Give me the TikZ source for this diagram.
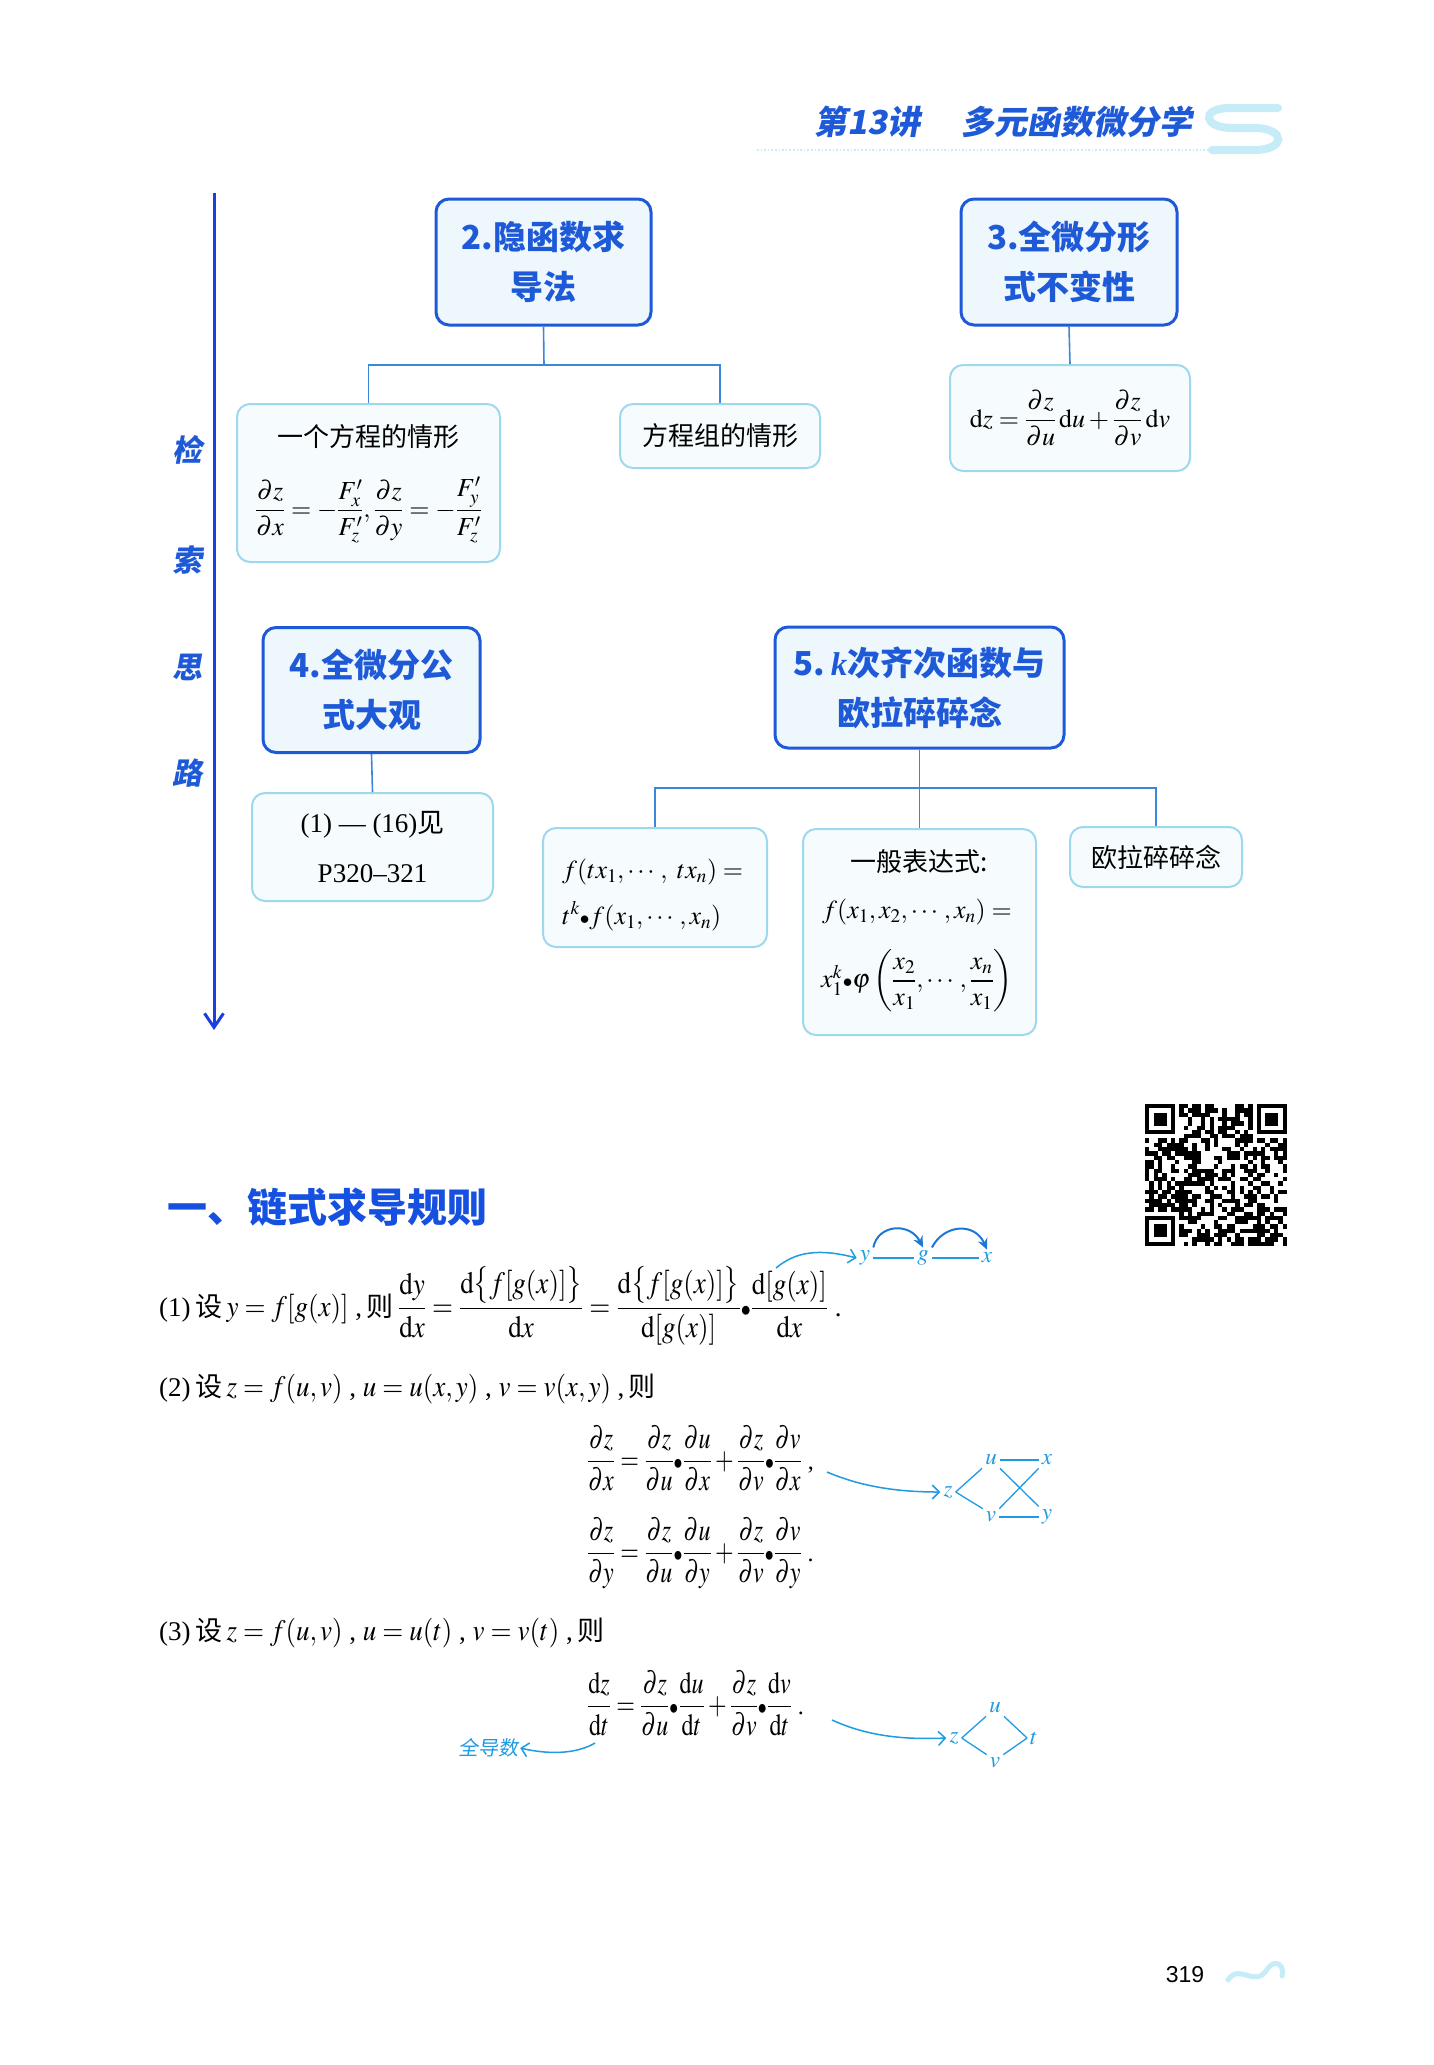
\documentclass[tikz,border=0pt]{standalone}
\usepackage{amsmath}
\usepackage{mathptmx}
\usepackage{graphicx}
\usepackage{fontspec}
\setmainfont{Liberation Serif}
\setsansfont{Liberation Sans}
\newfontfamily\cjk{Noto Sans CJK SC}
\newfontfamily\cjkslant{Noto Sans CJK SC}[FakeSlant=0.18]
\usetikzlibrary{arrows.meta}
\newcommand\stretchmath[2][1.2]{\scalebox{1}[#1]{$\displaystyle #2$}}
\definecolor{mainblue}{HTML}{1E5AD8}
\definecolor{boxfill}{HTML}{EEF7FC}
\definecolor{subline}{HTML}{9ED8EE}
\definecolor{subfill}{HTML}{F6FCFE}
\definecolor{connblue}{HTML}{3C86DC}
\definecolor{axisblue}{HTML}{1A3FE0}
\definecolor{noteblue}{HTML}{1E9BE2}
\definecolor{arcblue}{HTML}{1B78D8}
\definecolor{decocyan}{HTML}{C6ECF7}
\definecolor{titleblue}{HTML}{1650E0}
\tikzset{
  mainbox/.style={draw=mainblue, line width=3pt, rounded corners=13pt, fill=boxfill, inner sep=0pt, align=center, text=mainblue, font=\cjk\bfseries\fontsize{33}{50}\selectfont},
  subbox/.style={draw=subline, line width=2pt, rounded corners=13pt, fill=subfill, inner sep=0pt, align=center, font=\fontsize{26}{50}\selectfont},
  conn/.style={draw=connblue, line width=1.6pt},
  cjktxt/.style={inner sep=0pt, font=\cjk\fontsize{26}{30}\selectfont},
  mathtxt/.style={inner sep=0pt, font=\fontsize{26}{30}\selectfont},
  eqtxt/.style={inner sep=0pt, anchor=base west, font=\fontsize{26}{30}\selectfont},
  sidelabel/.style={inner sep=0pt, text=mainblue, font=\cjkslant\bfseries\fontsize{30}{30}\selectfont},
  treeletter/.style={inner sep=3pt, text=noteblue, font=\fontsize{23}{23}\selectfont},
  treeline/.style={draw=noteblue, line width=1.3pt},
  notearrow/.style={draw=noteblue, line width=1.5pt, -{Straight Barb[length=7pt,width=14pt]}},
  arcarrow/.style={draw=arcblue, line width=2pt, -{Stealth[length=11pt,width=10pt]}},
}
\begin{document}
\begin{tikzpicture}[x=1pt,y=-1pt]
\useasboundingbox[fill=white] (0,0) rectangle (1434,2065);

% ---------- header ----------
\node[inner sep=0pt, anchor=west, text=mainblue, font=\cjkslant\bfseries\fontsize{33}{33}\selectfont] (hd1) at (814,122) {第13讲};
\node[inner sep=0pt, anchor=west, text=mainblue, font=\cjkslant\bfseries\fontsize{33}{33}\selectfont] (hd2) at (961,122) {多元函数微分学};
\draw[decocyan, line width=1.6pt, dotted] (757,150) -- (1230,150);
\draw[decocyan, line width=8pt, line cap=round]
  (1278,108) -- (1228,108) .. controls (1200,109) and (1204,128) .. (1232,128)
  -- (1256,128) .. controls (1286,129) and (1286,150) .. (1254,150) -- (1212,150);

% ---------- vertical axis ----------
\coordinate (ax0) at (214,193);
\coordinate (ax1) at (214,1030);
\draw[axisblue, line width=3pt, -{Straight Barb[length=14pt,width=19pt,line width=3pt]}] (ax0) -- (ax1);
\node[sidelabel] (s1) at (187,450) {检};
\node[sidelabel] (s2) at (187,560) {索};
\node[sidelabel] (s3) at (187,667) {思};
\node[sidelabel] (s4) at (187,773) {路};

% ---------- upper boxes ----------
\node[mainbox, minimum width=215pt, minimum height=126pt] (b2) at (543.5,262) {2.隐函数求\\导法};
\node[mainbox, minimum width=216pt, minimum height=126pt] (b3) at (1069,262) {3.全微分形\\式不变性};

\node[subbox, minimum width=263pt, minimum height=158pt] (bA) at (368.5,483) {};
\node[cjktxt] (bAt) at (368.5,437) {一个方程的情形};
\node[mathtxt, font=\fontsize{26}{30}\selectfont] (bAf) at (368.5,510)
  {$\dfrac{\partial z}{\partial x}=-\dfrac{F'_x}{F'_z},\dfrac{\partial z}{\partial y}=-\dfrac{F'_y}{F'_z}$};

\node[subbox, minimum width=200pt, minimum height=64pt, font=\cjk\fontsize{26}{30}\selectfont] (bB) at (720,436) {方程组的情形};

\node[subbox, minimum width=240pt, minimum height=106pt, font=\fontsize{26}{30}\selectfont] (bC) at (1070,418)
  {$\mathrm{d}z=\dfrac{\partial z}{\partial u}\,\mathrm{d}u+\dfrac{\partial z}{\partial v}\,\mathrm{d}v$};

\coordinate (j2) at (544,365);
\draw[conn] (b2.south) -- (j2);
\draw[conn] (bA.north) |- (j2) -| (bB.north);
\draw[conn] (b3.south) -- (bC.north);

% ---------- lower boxes ----------
\node[mainbox, minimum width=217pt, minimum height=125pt] (b4) at (371.5,690) {4.全微分公\\式大观};
\node[mainbox, minimum width=289pt, minimum height=121pt] (b5) at (919.5,687.5) {5.\,{\rmfamily\itshape k}次齐次函数与\\欧拉碎碎念};

\node[subbox, minimum width=241pt, minimum height=108pt, font=\fontsize{27}{50}\selectfont] (bD) at (372.5,847)
  {(1)\ —\ (16){\cjk 见}\\P320\textendash321};
\draw[conn] (b4.south) -- (bD.north);

\node[subbox, minimum width=224pt, minimum height=119pt] (bE) at (655,887.5) {};
\node[mathtxt, anchor=west] (bEt1) at (562,872) {$f(tx_1,\cdots,\ tx_n)=$};
\node[mathtxt, anchor=west] (bEt2) at (562,916) {$t^k{\scriptstyle\bullet}f(x_1,\cdots,x_n)$};

\node[subbox, minimum width=233pt, minimum height=206pt] (bF) at (919.5,932) {};
\node[cjktxt] (bFt1) at (919,862) {一般表达式:};
\node[mathtxt] (bFt2) at (917,912) {$f(x_1,x_2,\cdots,x_n)=$};
\node[mathtxt] (bFt3) at (917,981) {$x_1^k{\scriptstyle\bullet}\varphi\left(\dfrac{x_2}{x_1},\cdots,\dfrac{x_n}{x_1}\right)$};

\node[subbox, minimum width=172pt, minimum height=60pt, font=\cjk\fontsize{26}{30}\selectfont] (bG) at (1156,857) {欧拉碎碎念};

\coordinate (j5) at (919.5,788);
\draw[conn] (b5.south) -- (bF.north);
\draw[conn] (bE.north) |- (j5) -| (bG.north);

% ---------- QR code ----------
\begin{scope}[shift={(1145,1104)}]
  \pgfmathsetseed{20231}
  \foreach \i in {0,...,32}{
    \foreach \j in {0,...,32}{
      \pgfmathrandominteger{\rr}{0}{99}
      \ifnum\rr<52 \fill[black] (\i*4.3,\j*4.3) rectangle ++(4.3,4.3);\fi
    }
  }
  \foreach \ox/\oy in {0/0, 25/0, 0/25}{
    \fill[white] ({\ox*4.3},{\oy*4.3}) rectangle ++(34.4,34.4);
  }
  \foreach \ox/\oy in {0/0, 26/0, 0/26}{
    \fill[black] ({\ox*4.3},{\oy*4.3}) rectangle ++(30.1,30.1);
    \fill[white] ({(\ox+1)*4.3},{(\oy+1)*4.3}) rectangle ++(21.5,21.5);
    \fill[black] ({(\ox+2)*4.3},{(\oy+2)*4.3}) rectangle ++(12.9,12.9);
  }
\end{scope}

% ---------- section title ----------
\node[inner sep=0pt, anchor=west, text=titleblue, font=\cjk\bfseries\fontsize{40}{40}\selectfont] (title) at (167,1207) {一、链式求导规则};

% ---------- rule (1) ----------
\node[eqtxt, font=\fontsize{27}{30}\selectfont] (eq1) at (159,1316)
  {(1)\,{\cjk 设}\,\stretchmath[1.1]{y=f[g(x)]}\ ,\,{\cjk 则}\,\stretchmath[1.15]{\frac{\mathrm{d}y}{\mathrm{d}x}=\frac{\mathrm{d}\big\{f[g(x)]\big\}}{\mathrm{d}x}=\frac{\mathrm{d}\big\{f[g(x)]\big\}}{\mathrm{d}[g(x)]}{\scriptstyle\bullet}\frac{\mathrm{d}[g(x)]}{\mathrm{d}x}}\ .};
\node[treeletter] (yy) at (865,1258) {$y$};
\node[treeletter] (gg) at (923,1258) {$g$};
\node[treeletter] (xx) at (987,1258) {$x$};
\draw[treeline] (yy) -- (gg);
\draw[treeline] (gg) -- (xx);
\draw[arcarrow] (yy.north east) .. controls (878,1224) and (910,1222) .. (gg.north);
\draw[arcarrow] (gg.north east) .. controls (944,1224) and (975,1222) .. (xx.north);
\coordinate (a0s) at (776,1268);
\draw[notearrow] (a0s) .. controls (795,1252) and (818,1248) .. (yy.west);

% ---------- rule (2) ----------
\node[eqtxt, font=\fontsize{27}{30}\selectfont] (eq2) at (159,1396)
  {(2)\,{\cjk 设}\,\stretchmath[1.1]{z=f(u,v)}\ ,\ \stretchmath[1.1]{u=u(x,y)}\ ,\ \stretchmath[1.1]{v=v(x,y)}\ ,\,{\cjk 则}};
\node[eqtxt, font=\fontsize{24}{28}\selectfont] (eq2a) at (587,1469)
  {\stretchmath[1.28]{\frac{\partial z}{\partial x}=\frac{\partial z}{\partial u}{\scriptstyle\bullet}\frac{\partial u}{\partial x}+\frac{\partial z}{\partial v}{\scriptstyle\bullet}\frac{\partial v}{\partial x}}\ ,};
\node[eqtxt, font=\fontsize{24}{28}\selectfont] (eq2b) at (587,1561)
  {\stretchmath[1.28]{\frac{\partial z}{\partial y}=\frac{\partial z}{\partial u}{\scriptstyle\bullet}\frac{\partial u}{\partial y}+\frac{\partial z}{\partial v}{\scriptstyle\bullet}\frac{\partial v}{\partial y}}\ .};

\node[treeletter] (tz) at (948,1492) {$z$};
\node[treeletter] (tu) at (991,1460) {$u$};
\node[treeletter] (tx) at (1047,1460) {$x$};
\node[treeletter] (tv) at (991,1517) {$v$};
\node[treeletter] (ty) at (1047,1517) {$y$};
\draw[treeline] (tz.east) -- (tu.south west);
\draw[treeline] (tz.east) -- (tv.north west);
\draw[treeline] (tu) -- (tx);
\draw[treeline] (tv) -- (ty);
\draw[treeline] (tu.south east) -- (ty.north west);
\draw[treeline] (tv.north east) -- (tx.south west);
\coordinate (a1s) at (827,1472);
\draw[notearrow] (a1s) .. controls (860,1486) and (895,1492) .. (tz.west);

% ---------- rule (3) ----------
\node[eqtxt, font=\fontsize{27}{30}\selectfont] (eq3) at (159,1640)
  {(3)\,{\cjk 设}\,\stretchmath[1.1]{z=f(u,v)}\ ,\ \stretchmath[1.1]{u=u(t)}\ ,\ \stretchmath[1.1]{v=v(t)}\ ,\,{\cjk 则}};
\node[eqtxt, font=\fontsize{24}{28}\selectfont] (eq3a) at (587,1714)
  {\stretchmath[1.28]{\frac{\mathrm{d}z}{\mathrm{d}t}=\frac{\partial z}{\partial u}{\scriptstyle\bullet}\frac{\mathrm{d}u}{\mathrm{d}t}+\frac{\partial z}{\partial v}{\scriptstyle\bullet}\frac{\mathrm{d}v}{\mathrm{d}t}}\ .};

\node[treeletter] (sz) at (954,1738) {$z$};
\node[treeletter] (su) at (995,1708) {$u$};
\node[treeletter] (sv) at (995,1763) {$v$};
\node[treeletter] (st) at (1034,1738) {$t$};
\draw[treeline] (sz.east) -- (su.south west);
\draw[treeline] (sz.east) -- (sv.north west);
\draw[treeline] (su.south east) -- (st.west);
\draw[treeline] (sv.north east) -- (st.west);
\coordinate (a2s) at (832,1720);
\draw[notearrow] (a2s) .. controls (865,1735) and (900,1740) .. (sz.west);

\node[inner sep=2pt, text=noteblue, font=\cjkslant\fontsize{20}{20}\selectfont] (qd) at (488,1748) {全导数};
\coordinate (a3s) at (595,1743);
\draw[notearrow] (a3s) .. controls (580,1752) and (555,1756) .. (qd.east);

% ---------- page number ----------
\node[inner sep=0pt, font=\sffamily\fontsize{23}{23}\selectfont] (pg) at (1185,1975) {319};
\draw[decocyan, line width=5pt, line cap=round]
  (1228,1980) .. controls (1240,1962) and (1255,1990) .. (1268,1968) .. controls (1276,1958) and (1285,1966) .. (1282,1976);
\end{tikzpicture}
\end{document}
